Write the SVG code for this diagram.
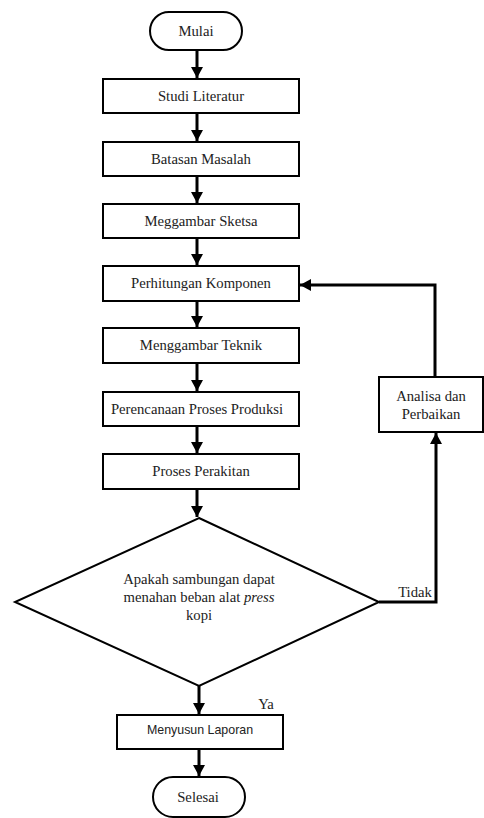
<svg xmlns="http://www.w3.org/2000/svg" width="484" height="818" viewBox="0 0 484 818">
<style>
.box{fill:#fff;stroke:#000;stroke-width:2}
.t{font-family:"Liberation Serif","Times New Roman",serif;font-size:14.7px;fill:#222;text-anchor:middle}
.s{font-family:"Liberation Sans",sans-serif;font-size:12.4px;fill:#222;text-anchor:middle}
.c{fill:none;stroke:#000;stroke-width:3}
</style>
<defs>
<marker id="ah" markerUnits="userSpaceOnUse" markerWidth="12" markerHeight="12" refX="11" refY="6" orient="auto">
<path d="M0,0 L11,6 L0,12 Z" fill="#000"/>
</marker>
</defs>
<rect width="484" height="818" fill="#fff"/>
<g id="connectors">
<line class="c" x1="197" y1="50" x2="197" y2="78" marker-end="url(#ah)"/>
<line class="c" x1="197" y1="113" x2="197" y2="141" marker-end="url(#ah)"/>
<line class="c" x1="197" y1="176" x2="197" y2="203" marker-end="url(#ah)"/>
<line class="c" x1="197" y1="238" x2="197" y2="265" marker-end="url(#ah)"/>
<line class="c" x1="197" y1="301" x2="197" y2="327" marker-end="url(#ah)"/>
<line class="c" x1="197" y1="363" x2="197" y2="391" marker-end="url(#ah)"/>
<line class="c" x1="197" y1="426" x2="197" y2="453" marker-end="url(#ah)"/>
<line class="c" x1="197" y1="489" x2="197" y2="517" marker-end="url(#ah)"/>
<line class="c" x1="199" y1="686" x2="199" y2="714" marker-end="url(#ah)"/>
<line class="c" x1="199" y1="749" x2="199" y2="776" marker-end="url(#ah)"/>
<polyline class="c" points="379,602 436,602 436,433" marker-end="url(#ah)"/>
<polyline class="c" points="435,377 435,285 300,285" marker-end="url(#ah)"/>
<text class="t" x="415" y="597">Tidak</text>
<text class="t" x="266" y="709">Ya</text>
</g>
<g id="mulai"><rect class="box" x="150" y="12" width="92" height="38" rx="19"/><text class="t" x="196" y="36">Mulai</text></g>
<g id="studi"><rect class="box" x="103" y="79" width="196" height="34"/><text class="t" x="201" y="101">Studi Literatur</text></g>
<g id="batasan"><rect class="box" x="103" y="142" width="196" height="34"/><text class="t" x="201" y="164">Batasan Masalah</text></g>
<g id="sketsa"><rect class="box" x="103" y="204" width="196" height="34"/><text class="t" x="201" y="226">Meggambar Sketsa</text></g>
<g id="perhitungan"><rect class="box" x="103" y="266" width="196" height="35"/><text class="t" x="201" y="288">Perhitungan Komponen</text></g>
<g id="teknik"><rect class="box" x="103" y="328" width="196" height="35"/><text class="t" x="201" y="350">Menggambar Teknik</text></g>
<g id="perencanaan"><rect class="box" x="103" y="392" width="196" height="34"/><text class="t" x="197" y="414">Perencanaan Proses Produksi</text></g>
<g id="perakitan"><rect class="box" x="103" y="454" width="196" height="35"/><text class="t" x="201" y="476">Proses Perakitan</text></g>
<g id="analisa"><rect class="box" x="379" y="377" width="104" height="55"/><text class="t" x="431" y="401">Analisa dan</text><text class="t" x="431" y="419">Perbaikan</text></g>
<g id="keputusan"><polygon class="box" points="199,518 379,602 199,686 15,602"/><text class="t" x="199" y="584">Apakah sambungan dapat</text><text class="t" x="199" y="602">menahan beban alat <tspan font-style="italic">press</tspan></text><text class="t" x="199" y="620">kopi</text></g>
<g id="laporan"><rect class="box" x="117" y="715" width="166" height="34"/><text class="s" x="200" y="734">Menyusun Laporan</text></g>
<g id="selesai"><rect class="box" x="153" y="777" width="92" height="40" rx="20"/><text class="t" x="198" y="802">Selesai</text></g>
</svg>
